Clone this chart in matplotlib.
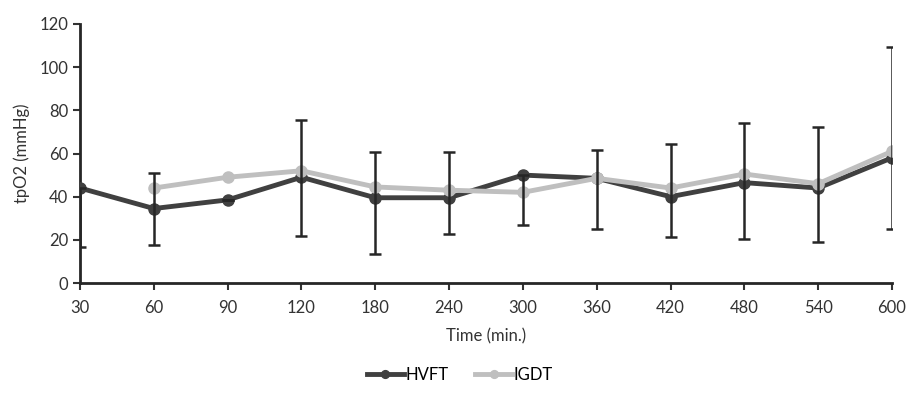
import numpy as np
import matplotlib
matplotlib.use("Agg")
import matplotlib.pyplot as plt

plt.rcParams['font.family'] = ['Lato', 'DejaVu Sans']

times = ['30', '60', '90', '120', '180', '240', '300', '360', '420', '480', '540', '600']
hvft = [44, 34.5, 38.5, 49, 39.5, 39.5, 50, 48.5, 40, 46.5, 44, 58]
igdt = [np.nan, 44, 49, 52, 44.5, 43, 42, 48.5, 44, 50.5, 46, 61]
# upper / lower ends of the HVFT error bars
err_hi = [44, 51, 38.5, 75.5, 60.5, 60.5, 50, 61.5, 64.5, 74, 72.5, 109.5]
err_lo = [16.5, 17.5, 38.5, 22, 13.5, 22.5, 27, 25, 21.5, 20.5, 19, 25]

dark = '#404040'
light = '#bfbfbf'
fs = 12

fig = plt.figure(figsize=(9.17, 3.96), dpi=100)
ax = fig.add_axes([80 / 917, 113 / 396, 812 / 917, 259 / 396])

x = np.arange(len(times))
ax.plot(x, hvft, color=dark, lw=3.5, marker='o', ms=8, label='HVFT', zorder=3)
ax.plot(x, igdt, color=light, lw=3.5, marker='o', ms=8, label='IGDT', zorder=4)

yerr = [np.array(hvft) - np.array(err_lo), np.array(err_hi) - np.array(hvft)]
ax.errorbar(x, hvft, yerr=yerr, fmt='none', ecolor='#262626', elinewidth=1.8,
            capsize=4, capthick=1.8, zorder=5)

ax.set_xlim(0, len(times) - 1)
ax.set_ylim(0, 120)
ax.set_yticks(range(0, 121, 20))
ax.set_xticks(x)
ax.set_xticklabels(times)
ax.tick_params(labelsize=fs, colors='#333333', width=1.5, length=5)
ax.tick_params(axis='x', pad=7)
for s in ['top', 'right']:
    ax.spines[s].set_visible(False)
for s in ['left', 'bottom']:
    ax.spines[s].set_linewidth(2)
    ax.spines[s].set_color('#262626')

ax.set_xlabel('Time (min.)', fontsize=fs, color='#333333', labelpad=9)
ax.set_ylabel('tpO2 (mmHg)', fontsize=fs, color='#333333', labelpad=7)

fig.legend(loc='center', bbox_to_anchor=(460 / 917, 21 / 396), ncol=2, frameon=False,
           fontsize=fs, handlelength=2.2, columnspacing=1.6, handletextpad=0.1,
           markerscale=0.7)

fig.savefig('out.png', dpi=100)
